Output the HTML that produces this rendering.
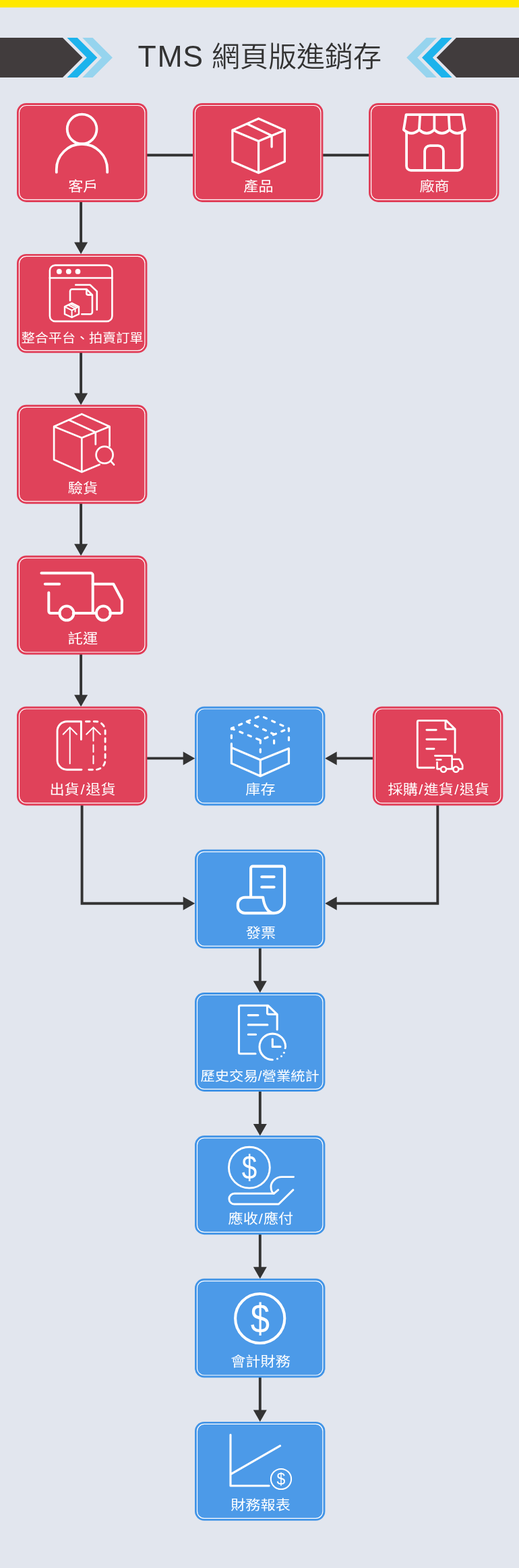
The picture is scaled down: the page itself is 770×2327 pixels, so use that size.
<!DOCTYPE html>
<html lang="zh-Hant">
<head>
<meta charset="utf-8">
<title>TMS 網頁版進銷存</title>
<style>
html,body{margin:0;padding:0;background:#e2e6ee;}
body{width:770px;height:2327px;overflow:hidden;font-family:"Liberation Sans","Noto Sans CJK TC",sans-serif;}
svg{display:block;will-change:transform;}
.t{font-family:"Liberation Sans","Noto Sans CJK TC",sans-serif;}
.lbl{fill:#fff;font-weight:400;text-anchor:middle;}
.title{fill:#333;font-weight:300;}
.sym{fill:#fff;stroke:none;font-weight:400;}
.ic{fill:none;stroke:#fff;stroke-linecap:round;stroke-linejoin:round;}
.ln{fill:none;stroke:#333333;stroke-width:3.9;}
.ah{fill:#333333;}
</style>
</head>
<body>
<svg width="770" height="2327" viewBox="0 0 770 2327">
<rect width="770" height="2327" fill="#e2e6ee"/>
<rect width="770" height="11.1" fill="#ffe800"/>
<polygon points="0,56 93,56 122.5,85.4 93,115 0,115" fill="#413c3d"/>
<polygon points="99.5,56 114.8,56 144.3,85.4 114.8,115 99.5,115 128.8,85.4" fill="#1cb3ec"/>
<polygon points="122.2,56 137.5,56 166.9,85.4 137.5,115 122.2,115 151,85.4" fill="#96d4ee"/>
<polygon points="770,56 677,56 647.7,85.4 677,115 770,115" fill="#413c3d"/>
<polygon points="670.7,56 655,56 626,85.4 655,115 670.7,115 641.8,85.4" fill="#1cb3ec"/>
<polygon points="648,56 632.6,56 603.2,85.4 632.6,115 648,115 619.2,85.4" fill="#96d4ee"/>
<text class="t title" y="98.8" font-size="44.6"><tspan x="204.6 233.4 271.3">TMS</tspan> <tspan x="314" font-size="42" font-weight="350">網頁版進銷存</tspan></text>
<polyline class="ln" points="217.5,230.3 287,230.3"/>
<polyline class="ln" points="478.5,230.3 548,230.3"/>
<polyline class="ln" points="120.1,299 120.1,366.9"/>
<polygon class="ah" points="110.1,359.6 130.1,359.6 120.1,377.1"/>
<polyline class="ln" points="120.1,523 120.1,590.8"/>
<polygon class="ah" points="110.1,583.5 130.1,583.5 120.1,601"/>
<polyline class="ln" points="120.1,747 120.1,814.6"/>
<polygon class="ah" points="110.1,807.3 130.1,807.3 120.1,824.8"/>
<polyline class="ln" points="120.1,971 120.1,1038.5"/>
<polygon class="ah" points="110.1,1031.2 130.1,1031.2 120.1,1048.7"/>
<polyline class="ln" points="217.5,1125.4 275,1125.4"/>
<polygon class="ah" points="271.7,1115.4 271.7,1135.4 289.2,1125.4"/>
<polyline class="ln" points="553.5,1125.4 496,1125.4"/>
<polygon class="ah" points="499.7,1115.4 499.7,1135.4 482.2,1125.4"/>
<polyline class="ln" points="121.6,1194.5 121.6,1340.8 275,1340.8"/>
<polygon class="ah" points="271.7,1330.8 271.7,1350.8 289.2,1340.8"/>
<polyline class="ln" points="649.3,1194.5 649.3,1340.8 496,1340.8"/>
<polygon class="ah" points="499.7,1330.8 499.7,1350.8 482.2,1340.8"/>
<polyline class="ln" points="385.8,1406.8 385.8,1463"/>
<polygon class="ah" points="375.8,1455.7 395.8,1455.7 385.8,1473.2"/>
<polyline class="ln" points="385.8,1619 385.8,1675.3"/>
<polygon class="ah" points="375.8,1668 395.8,1668 385.8,1685.5"/>
<polyline class="ln" points="385.8,1831.5 385.8,1887.6"/>
<polygon class="ah" points="375.8,1880.3 395.8,1880.3 385.8,1897.8"/>
<polyline class="ln" points="385.8,2043.8 385.8,2099.9"/>
<polygon class="ah" points="375.8,2092.6 395.8,2092.6 385.8,2110.1"/>
<g>
<rect x="25" y="153" width="193.4" height="146.9" rx="14" ry="14" fill="#e03d57"/>
<rect x="28.5" y="156.5" width="186.4" height="139.9" rx="10.5" ry="10.5" fill="#e0425a" stroke="#fff" stroke-width="1.2"/>
<g class="ic">
<circle cx="121.6" cy="191.6" r="21.9" stroke-width="3.8"/>
<path d="M83.8,255.7 V251.4 A37.7,37.7 0 0 1 159.2,251.4 V255.7" stroke-width="3.8"/>
</g>
<text class="t lbl" transform="translate(123.3,283.8) scale(1.096,1)" x="0" y="0" font-size="20.2">客戶</text>
</g>
<g>
<rect x="286" y="153" width="193.4" height="146.9" rx="14" ry="14" fill="#e03d57"/>
<rect x="289.5" y="156.5" width="186.4" height="139.9" rx="10.5" ry="10.5" fill="#e0425a" stroke="#fff" stroke-width="1.2"/>
<g class="ic">
<path d="M383.6,176 L422.4,193.3 V239.7 L383.6,256.6 L344.9,239.7 V193.3 Z M344.9,193.3 L383.6,209.5 L422.4,193.3 M383.6,209.5 V256.6 M366.5,183.8 L403.1,201.2 V218" stroke-width="3.3"/>
</g>
<text class="t lbl" transform="translate(383.5,283.8) scale(1.096,1)" x="0" y="0" font-size="20.2">產品</text>
</g>
<g>
<rect x="547.1" y="153" width="193.4" height="146.9" rx="14" ry="14" fill="#e03d57"/>
<rect x="550.6" y="156.5" width="186.4" height="139.9" rx="10.5" ry="10.5" fill="#e0425a" stroke="#fff" stroke-width="1.2"/>
<g class="ic">
<path d="M603.1,196 V246.4 A6.5,6.5 0 0 0 609.6,252.9 H679.1 A6.5,6.5 0 0 0 685.6,246.4 V196" stroke-width="3.8"/>
<path d="M630.1,252.9 V224.1 A8,8 0 0 1 638.1,216.1 H649.9 A8,8 0 0 1 657.9,224.1 V252.9" stroke-width="3.8" stroke-linecap="butt"/>
<path d="M602.6,170.1 H686 L689.8,192.5 Q678.4,203 667,192.5 Q655.7,203 644.4,192.5 Q633.1,203 621.9,192.5 Q610.4,203 598.9,192.5 Z M623.2,170.1 L621.9,192.5 M644.4,170.1 V192.5 M665.7,170.1 L667,192.5" stroke-width="3.8"/>
</g>
<text class="t lbl" transform="translate(644.6,283.8) scale(1.096,1)" x="0" y="0" font-size="20.2">廠商</text>
</g>
<g>
<rect x="25" y="376.9" width="193.4" height="146.9" rx="14" ry="14" fill="#e03d57"/>
<rect x="28.5" y="380.4" width="186.4" height="139.9" rx="10.5" ry="10.5" fill="#e0425a" stroke="#fff" stroke-width="1.2"/>
<g class="ic">
<rect x="73.9" y="393.6" width="92.5" height="83.3" rx="8" ry="8" stroke-width="2.6"/>
<path d="M73.9,412.5 H166.4" stroke-width="2.6"/>
<circle cx="87.8" cy="402.9" r="3.9" fill="#fff" stroke="none"/>
<circle cx="101.8" cy="402.9" r="3.9" fill="#fff" stroke="none"/>
<circle cx="115.5" cy="402.9" r="3.9" fill="#fff" stroke="none"/>
<path d="M112.2,422.7 H133.6 L143.8,432.4 V459.7" stroke-width="2.6"/>
<path d="M104,446 V432.2 A3,3 0 0 1 107,429.2 H128.4 L136.9,437.6 V463.2 A3,3 0 0 1 133.9,466.2 H121.3 M128.4,429.2 V435.6 A2,2 0 0 0 130.4,437.6 H136.9" stroke-width="2.6"/>
<path d="M106.6,449.9 L117,455.1 V466.2 L106.6,471 L96,466.2 V455.1 Z" fill="#e0425a" stroke-width="2.4"/>
<path d="M96,455.1 L106.6,460.6 L117,455.1 M106.6,460.6 V471 M101,452.6 L111.6,457.9 V462.5 M104,451.2 L114.4,456.4" stroke-width="2"/>
</g>
<text class="t lbl" transform="translate(122,507.7) scale(1.08,1)" x="0" y="0" font-size="18.6">整合平台、拍賣訂單</text>
</g>
<g>
<rect x="25" y="600.8" width="193.4" height="146.9" rx="14" ry="14" fill="#e03d57"/>
<rect x="28.5" y="604.3" width="186.4" height="139.9" rx="10.5" ry="10.5" fill="#e0425a" stroke="#fff" stroke-width="1.2"/>
<g class="ic">
<path d="M162.6,662.1 V632.9 L121.3,614.4 L80.1,632.9 V682.3 L121.3,700.5 L147.7,689.4 M80.1,632.9 L121.3,649.8 L162.6,632.9 M121.3,649.8 V700.5 M102.2,623.2 L141.8,641.4 V659.5" stroke-width="2.7"/>
<circle cx="155.1" cy="675.1" r="12.5" stroke-width="2.7"/>
<path d="M164.4,684.4 L169.1,689.7" stroke-width="2.6"/>
</g>
<text class="t lbl" transform="translate(123,731.6) scale(1.096,1)" x="0" y="0" font-size="20.2">驗貨</text>
</g>
<g>
<rect x="25" y="824.6" width="193.4" height="146.9" rx="14" ry="14" fill="#e03d57"/>
<rect x="28.5" y="828.1" width="186.4" height="139.9" rx="10.5" ry="10.5" fill="#e0425a" stroke="#fff" stroke-width="1.2"/>
<g class="ic">
<path d="M61.4,850.5 H134.7 A3,3 0 0 1 137.7,853.5 V910.1" stroke-width="4"/>
<path d="M66.8,866.8 H88.1" stroke-width="4"/>
<path d="M72.3,879.5 V907.1 A3,3 0 0 0 75.3,910.1 H88.5 M108.7,910.1 H143.1 M163.3,910.1 H177.9 A3,3 0 0 0 180.9,907.1 V890.5 L168.3,866.8 H137.7" stroke-width="4"/>
<circle cx="98.9" cy="910.1" r="10.5" stroke-width="4"/>
<circle cx="153.4" cy="910.1" r="10.5" stroke-width="4"/>
</g>
<text class="t lbl" transform="translate(122.9,955.4) scale(1.096,1)" x="0" y="0" font-size="20.2">託運</text>
</g>
<g>
<rect x="25" y="1048.5" width="193.4" height="146.9" rx="14" ry="14" fill="#e03d57"/>
<rect x="28.5" y="1052" width="186.4" height="139.9" rx="10.5" ry="10.5" fill="#e0425a" stroke="#fff" stroke-width="1.2"/>
<g class="ic">
<path d="M120.4,1097.6 V1070.7 H99.3 A14.3,14.3 0 0 0 85,1085 V1127.9 A14.3,14.3 0 0 0 99.3,1142.2 H121" stroke-width="2.9"/>
<path d="M127.5,1070.7 H141.8 A14.3,14.3 0 0 1 156.1,1085 V1127.9 A14.3,14.3 0 0 1 141.8,1142.2 H127.5" stroke-width="2.9" stroke-dasharray="5.6 6.2"/>
<path d="M103.7,1133.3 V1079.4 M93.7,1089.8 L103.7,1079.4 L113.9,1089.8" stroke-width="2"/>
<path d="M138.5,1099.6 V1079.4 M128.2,1089.8 L138.5,1079.4 L148.9,1089.8 M138.5,1105.5 V1116 M138.5,1121.8 V1133.3" stroke-width="2"/>
</g>
<text class="t lbl" transform="translate(122.5,1179.3) scale(1.096,1)" x="0" y="0" font-size="20.2">出貨<tspan dx="1.6">/</tspan><tspan dx="1.6">退貨</tspan></text>
</g>
<g>
<rect x="289" y="1048.5" width="193.4" height="146.9" rx="14" ry="14" fill="#4294e6"/>
<rect x="292.5" y="1052" width="186.4" height="139.9" rx="10.5" ry="10.5" fill="#4c9ae8" stroke="#fff" stroke-width="1.2"/>
<g class="ic">
<path d="M343.4,1103.7 V1132.9 L386.3,1151.8 L428.5,1132.9 V1110.8 M343.4,1109.5 L386.3,1127.7 L428.5,1110.8 M386.3,1127.7 V1151.8" stroke-width="3.2"/>
<path d="M343.4,1095.5 V1081 L386.3,1062.1 L428.5,1081 V1104 M343.4,1081 L386.3,1098.5 L428.5,1081 M386.3,1098.5 V1121 M366.2,1071 L406.6,1089.8 V1106" stroke-width="3.2" stroke-dasharray="4.4 9"/>
</g>
<text class="t lbl" transform="translate(386.5,1179.3) scale(1.096,1)" x="0" y="0" font-size="20.2">庫存</text>
</g>
<g>
<rect x="552.9" y="1048.5" width="193.4" height="146.9" rx="14" ry="14" fill="#e03d57"/>
<rect x="556.4" y="1052" width="186.4" height="139.9" rx="10.5" ry="10.5" fill="#e0425a" stroke="#fff" stroke-width="1.2"/>
<g class="ic">
<path d="M644,1139.2 H621.3 A2,2 0 0 1 619.3,1137.2 V1071.4 A2,2 0 0 1 621.3,1069.4 H662.1 L675.1,1082 V1117.1 M661,1069.4 V1080 A2,2 0 0 0 663,1082 H675.1" stroke-width="2.9"/>
<path d="M632.9,1083.3 H647.2 M632.9,1097.2 H661.5 M632.9,1111.2 H644" stroke-width="2.9"/>
<path d="M645.3,1121.6 H670.6 V1141.1 M647.8,1127.5 H654.4 M648.5,1131.4 V1141.1 H653.5 M662.5,1141.1 H671.9 M680.9,1141.1 H686.2 V1135.3 L681.6,1126.8 H670.6" stroke-width="2.6"/>
<circle cx="658" cy="1141.8" r="4" stroke-width="2.6"/>
<circle cx="676.4" cy="1141.8" r="4" stroke-width="2.6"/>
</g>
<text class="t lbl" transform="translate(650.8,1179.3) scale(1.096,1)" x="0" y="0" font-size="20.2">採購<tspan dx="1.2">/</tspan><tspan dx="1.2">進貨</tspan><tspan dx="1.2">/</tspan><tspan dx="1.2">退貨</tspan></text>
</g>
<g>
<rect x="289" y="1260.7" width="193.4" height="146.9" rx="14" ry="14" fill="#4294e6"/>
<rect x="292.5" y="1264.2" width="186.4" height="139.9" rx="10.5" ry="10.5" fill="#4c9ae8" stroke="#fff" stroke-width="1.2"/>
<g class="ic">
<path d="M372.1,1329.8 V1288.6 A3,3 0 0 1 375.1,1285.6 H419.1 A3,3 0 0 1 422.1,1288.6 V1339.5 A15.6,15.6 0 0 1 406.5,1355.1 H363.3 A10.5,10.5 0 0 1 352.8,1344.6 V1342.2 A10.5,10.5 0 0 1 363.3,1331.7 H390.2 C391.5,1342 396,1355.1 406.5,1355.1" stroke-width="4.1"/>
<path d="M388.3,1301.2 H406.6 M388.3,1316.5 H406.6" stroke-width="4.1"/>
</g>
<text class="t lbl" transform="translate(386.9,1391.5) scale(1.096,1)" x="0" y="0" font-size="20.2">發票</text>
</g>
<g>
<rect x="289" y="1473" width="193.4" height="146.9" rx="14" ry="14" fill="#4294e6"/>
<rect x="292.5" y="1476.5" width="186.4" height="139.9" rx="10.5" ry="10.5" fill="#4c9ae8" stroke="#fff" stroke-width="1.2"/>
<g class="ic">
<path d="M379,1563.8 H356.5 A2,2 0 0 1 354.5,1561.8 V1494.3 A2,2 0 0 1 356.5,1492.3 H397.8 L411.2,1505.3 V1528 M396.5,1492.3 V1503.3 A2,2 0 0 0 398.5,1505.3 H411.2" stroke-width="3.1"/>
<path d="M368.3,1506.6 H382.9 M368.3,1520.9 H396.9 M368.3,1535.2 H379.6" stroke-width="3.1"/>
<path d="M423.6,1553.4 A19.3,19.3 0 1 0 404.3,1572.7" stroke-width="3.1"/>
<path d="M404.3,1542.1 V1553.4 H416" stroke-width="3.1"/>
<circle cx="423.1" cy="1555.6" r="1.5" fill="#fff" stroke="none"/>
<circle cx="421.4" cy="1562.2" r="1.5" fill="#fff" stroke="none"/>
<circle cx="417.5" cy="1567.4" r="1.5" fill="#fff" stroke="none"/>
<circle cx="411.5" cy="1571.3" r="1.5" fill="#fff" stroke="none"/>
</g>
<text class="t lbl" transform="translate(385.7,1603.8) scale(1.088,1)" x="0" y="0" font-size="19.6">歷史交易/營業統計</text>
</g>
<g>
<rect x="289" y="1685.3" width="193.4" height="146.9" rx="14" ry="14" fill="#4294e6"/>
<rect x="292.5" y="1688.8" width="186.4" height="139.9" rx="10.5" ry="10.5" fill="#4c9ae8" stroke="#fff" stroke-width="1.2"/>
<g class="ic">
<circle cx="369.9" cy="1732.7" r="30.4" stroke-width="2.9"/>
<text class="t sym" transform="translate(369.9,1750.2) scale(0.8,1)" x="0" y="0" font-size="50.5" text-anchor="middle">$</text>
<path d="M406.3,1771.3 H347.7 A7.85,7.85 0 0 0 347.7,1787 H413.4 L434.9,1765.9" stroke-width="2.9"/>
<path d="M435.6,1746.6 H418 C409,1746.6 402,1754 402,1761 C402,1766 404,1770 406.3,1771.3 L412.7,1765.9" stroke-width="2.9"/>
</g>
<text class="t lbl" transform="translate(386.9,1816.1) scale(1.096,1)" x="0" y="0" font-size="20.2">應收<tspan dx="0.9">/</tspan><tspan dx="0.9">應付</tspan></text>
</g>
<g>
<rect x="289" y="1897.6" width="193.4" height="146.9" rx="14" ry="14" fill="#4294e6"/>
<rect x="292.5" y="1901.1" width="186.4" height="139.9" rx="10.5" ry="10.5" fill="#4c9ae8" stroke="#fff" stroke-width="1.2"/>
<g class="ic">
<circle cx="385.7" cy="1956.6" r="36.6" stroke-width="4.1"/>
<text class="t sym" transform="translate(385.9,1978.3) scale(0.82,1)" x="0" y="0" font-size="62" text-anchor="middle">$</text>
</g>
<text class="t lbl" transform="translate(386.5,2028.4) scale(1.096,1)" x="0" y="0" font-size="20.2">會計財務</text>
</g>
<g>
<rect x="289" y="2109.9" width="193.4" height="146.9" rx="14" ry="14" fill="#4294e6"/>
<rect x="292.5" y="2113.4" width="186.4" height="139.9" rx="10.5" ry="10.5" fill="#4c9ae8" stroke="#fff" stroke-width="1.2"/>
<g class="ic">
<path d="M342,2129.3 V2205 H399.1 M342.7,2187.6 L415.6,2145.7" stroke-width="3.1"/>
<circle cx="417" cy="2195" r="15.1" stroke-width="2"/>
<text class="t sym" x="417" y="2203" font-size="23" text-anchor="middle">$</text>
</g>
<text class="t lbl" transform="translate(386.5,2240.7) scale(1.096,1)" x="0" y="0" font-size="20.2">財務報表</text>
</g>
</svg>
</body>
</html>
